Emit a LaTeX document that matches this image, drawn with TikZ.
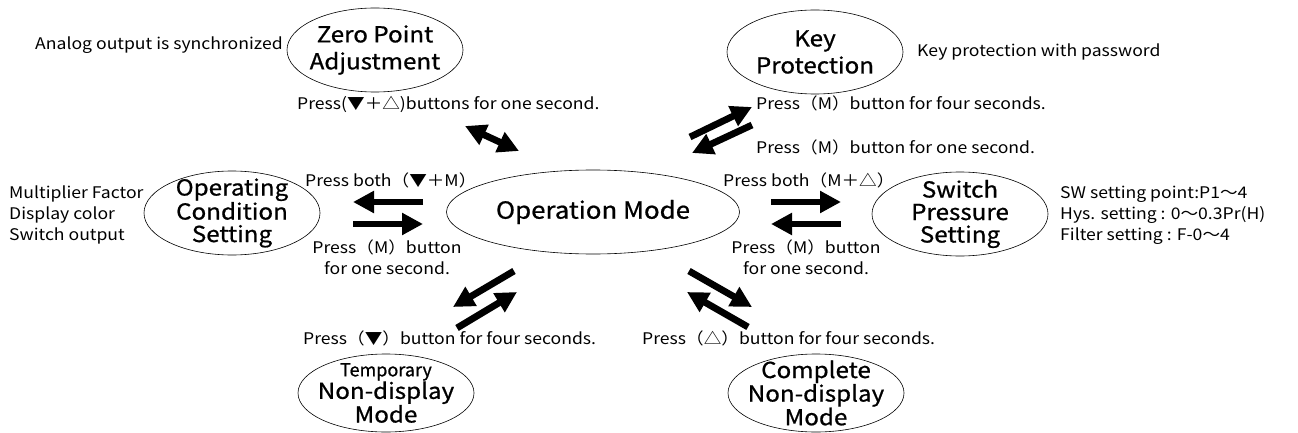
\documentclass[tikz,border=0pt]{standalone}
\usepackage{fontspec}
\setmainfont{Noto Sans CJK JP}[FakeStretch=1.1]
\newfontfamily\titlefont{Noto Sans CJK JP}[FakeBold=0.8,FakeStretch=1.1]
\newfontfamily\plaintitle{Noto Sans CJK JP}[FakeBold=0.8]
\usetikzlibrary{arrows.meta,shapes.geometric}
\begin{document}
\begin{tikzpicture}[x=1pt,y=-1pt,
  oval/.style={ellipse, draw, line width=0.6pt, minimum width=176pt, minimum height=84pt, inner sep=0pt},
  ttl/.style={inner sep=0pt, align=center, font=\titlefont\fontsize{22}{27}\selectfont},
  ttlc/.style={inner sep=0pt, align=center, font=\titlefont\fontsize{22}{22.5}\selectfont},
  lbl/.style={inner sep=0pt, font=\fontsize{16}{21}\selectfont},
  fat/.style={line width=6.8pt, -{Triangle[length=21pt,width=21pt]}},
  dfat/.style={line width=6.8pt, {Triangle[length=21pt,width=21pt]}-{Triangle[length=21pt,width=21pt]}}
]
\useasboundingbox (0,0) rectangle (1298,433);

% ellipses
\node[oval] (zero) at (375,50) {};
\node[ttl] (zeroT) at (zero) {Zero Point\\Adjustment};
\node[oval] (key) at (815,52) {};
\node[ttl] (keyT) at (key) {Key\\Protection};
\node[oval] (oper) at (232,213) {};
\node[ttlc] (operT) at (oper) {Operating\\Condition\\Setting};
\node[oval, minimum width=293pt] (main) at (593,212) {};
\node[inner sep=0pt, font=\titlefont\fontsize{23.5}{24}\selectfont] (mainT) at (main) {Operation Mode};
\node[oval] (sw) at (960,214) {};
\node[ttlc] (swT) at (sw) {Switch\\Pressure\\Setting};
\node[oval, minimum height=78pt] (tmp) at (386,393) {};
\node[ttlc] (tmpT) at (tmp) {{\plaintitle\fontsize{18}{22.5}\selectfont Temporary}\\Non-display\\Mode};
\node[oval, minimum height=78pt] (cmp) at (816,393) {};
\node[ttlc] (cmpT) at (cmp) {Complete\\Non-display\\Mode};

% side notes
\node[lbl, anchor=east] (analog) at (283,45) {Analog output is synchronized};
\node[lbl, anchor=west] (keypw) at (917,52) {Key protection with password};
\node[lbl, anchor=west, align=left] (leftlist) at (9,215) {Multiplier Factor\\Display color\\Switch output};
\node[lbl, anchor=west, align=left] (rightlist) at (1060,215) {SW setting point:P1～4\\Hys. setting : 0～0.3Pr(H)\\Filter setting : F-0～4};

% transition labels
\node[lbl, anchor=west] (lz) at (297,104) {Press(▼＋△)buttons for one second.};
\node[lbl, anchor=west] (lk1) at (756,103) {Press（M）button for four seconds.};
\node[lbl, anchor=west] (lk2) at (756,147) {Press（M）button for one second.};
\node[lbl, anchor=west] (lo1) at (305,180) {Press both（▼＋M）};
\node[lbl, align=center] (lo2) at (387,257) {Press（M）button\\for one second.};
\node[lbl, anchor=west] (ls1) at (723,180) {Press both（M＋△）};
\node[lbl, align=center] (ls2) at (806,257) {Press（M）button\\for one second.};
\node[lbl, anchor=west] (lt) at (303,338) {Press（▼）button for four seconds.};
\node[lbl, anchor=west] (lc) at (642,338) {Press（△）button for four seconds.};

% arrow end points
\coordinate (z1) at (465,126); \coordinate (z2) at (519,151);
\coordinate (k1a) at (690,137); \coordinate (k1b) at (752,107);
\coordinate (k2a) at (752,125); \coordinate (k2b) at (692,153);
\coordinate (o1a) at (423,202); \coordinate (o1b) at (353,202);
\coordinate (o2a) at (353,224); \coordinate (o2b) at (423,224);
\coordinate (s1a) at (771,202); \coordinate (s1b) at (841,202);
\coordinate (s2a) at (841,224); \coordinate (s2b) at (771,224);
\coordinate (t1a) at (514,271); \coordinate (t1b) at (453,307);
\coordinate (t2a) at (457,328); \coordinate (t2b) at (517,292);
\coordinate (c1a) at (689,271); \coordinate (c1b) at (752,307);
\coordinate (c2a) at (748,327); \coordinate (c2b) at (687,292);

\draw[dfat] (z1) -- (z2);
\draw[fat] (k1a) -- (k1b);
\draw[fat] (k2a) -- (k2b);
\draw[fat] (o1a) -- (o1b);
\draw[fat] (o2a) -- (o2b);
\draw[fat] (s1a) -- (s1b);
\draw[fat] (s2a) -- (s2b);
\draw[fat] (t1a) -- (t1b);
\draw[fat] (t2a) -- (t2b);
\draw[fat] (c1a) -- (c1b);
\draw[fat] (c2a) -- (c2b);
\end{tikzpicture}
\end{document}
